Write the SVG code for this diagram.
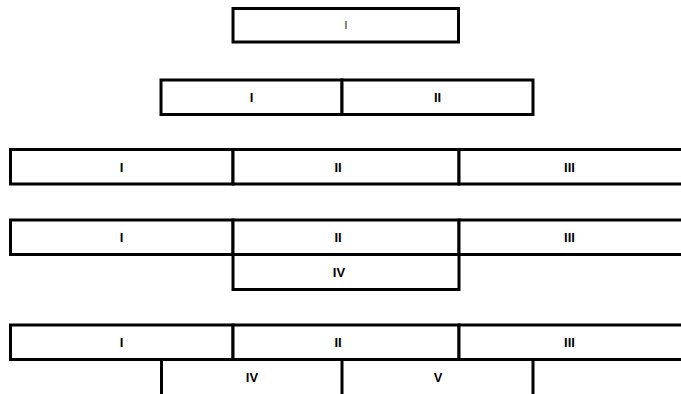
<svg xmlns="http://www.w3.org/2000/svg" width="681" height="394" viewBox="0 0 681 394">
<style>
.b{fill:#fff;stroke:#000;stroke-width:3}
.l{fill:none;stroke:#000;stroke-width:3}
.t{font-family:"Liberation Sans Narrow","Liberation Sans",Arial,sans-serif;font-weight:bold;font-size:13px;text-anchor:middle;fill:#000}
.s{font-family:"Liberation Sans",Arial,sans-serif;font-size:10px;text-anchor:middle;fill:#000}
</style>
<rect width="681" height="394" fill="#fff"/>
<g id="row1">
<g id="r1-I"><rect class="b" x="233" y="8.5" width="225.5" height="33.5"/><text class="s" x="346" y="29">I</text></g>
</g>
<g id="row2">
<g id="r2-I"><rect class="b" x="161" y="80" width="181" height="34.5"/><text class="t" x="251.5" y="102">I</text></g>
<g id="r2-II"><rect class="b" x="342" y="80" width="191" height="34.5"/><text class="t" x="437.5" y="102">II</text></g>
</g>
<g id="row3">
<g id="r3-I"><rect class="b" x="10.5" y="149.5" width="222.5" height="34.5"/><text class="t" x="121.5" y="171.5">I</text></g>
<g id="r3-II"><rect class="b" x="233" y="149.5" width="226" height="34.5"/><text class="t" x="338" y="171.5">II</text></g>
<g id="r3-III"><rect class="b" x="459" y="149.5" width="226" height="34.5"/><text class="t" x="569.5" y="171.5">III</text></g>
</g>
<g id="row4">
<g id="r4-I"><rect class="b" x="10.5" y="220" width="222.5" height="34.5"/><text class="t" x="121.5" y="242">I</text></g>
<g id="r4-II"><rect class="b" x="233" y="220" width="226" height="34.5"/><text class="t" x="338" y="242">II</text></g>
<g id="r4-III"><rect class="b" x="459" y="220" width="226" height="34.5"/><text class="t" x="569.5" y="242">III</text></g>
<g id="r4-IV"><rect class="b" x="233" y="254.5" width="226" height="35"/><text class="t" x="339" y="276.5">IV</text></g>
</g>
<g id="row5">
<g id="r5-I"><rect class="b" x="10.5" y="325" width="222.5" height="34.5"/><text class="t" x="121.5" y="347">I</text></g>
<g id="r5-II"><rect class="b" x="233" y="325" width="226" height="34.5"/><text class="t" x="338" y="347">II</text></g>
<g id="r5-III"><rect class="b" x="459" y="325" width="226" height="34.5"/><text class="t" x="569.5" y="347">III</text></g>
<g id="r5-IV"><path class="l" d="M161.5 359.5V396M342 359.5V396"/><text class="t" x="252" y="381.5">IV</text></g>
<g id="r5-V"><path class="l" d="M533 359.5V396"/><text class="t" x="438" y="381.5">V</text></g>
</g>
<g id="connectors"></g>
</svg>
